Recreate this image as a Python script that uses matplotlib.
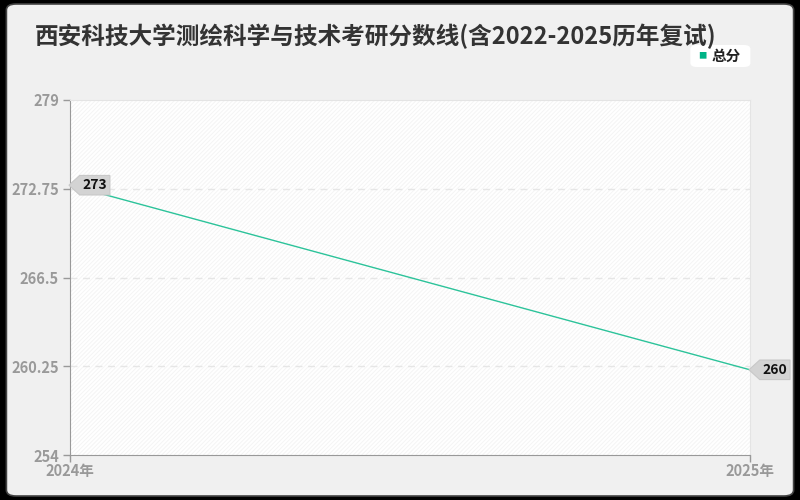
import matplotlib
matplotlib.use("Agg")
import matplotlib.pyplot as plt
from matplotlib.patches import FancyBboxPatch, Rectangle
from matplotlib.path import Path

plt.rcParams['font.family'] = ['Noto Sans CJK SC', 'DejaVu Sans']
plt.rcParams['hatch.linewidth'] = 0.6

years = ["2024年", "2025年"]
scores = [273, 260]
yticks = [254, 260.25, 266.5, 272.75, 279]
title = "西安科技大学测绘科学与技术考研分数线(含2022-2025历年复试)"
line_color = "#2cc39a"


def tag_box(x0, y0, width, height, mutation_size):
    # box with a pointed left side, like the value tags in the chart
    pad = 0.2 * mutation_size
    x0, y0 = x0 - pad, y0 - pad
    w, h = width + 2 * pad, height + 2 * pad
    tip = h * 0.55
    verts = [(x0 - tip, y0 + h / 2), (x0, y0 + h), (x0 + w, y0 + h),
             (x0 + w, y0), (x0, y0), (x0 - tip, y0 + h / 2)]
    codes = [Path.MOVETO] + [Path.LINETO] * 4 + [Path.CLOSEPOLY]
    return Path(verts, codes)


fig = plt.figure(figsize=(8, 5), dpi=100)
fig.patch.set_facecolor("black")

# rounded background panel
panel = FancyBboxPatch((0.008, 0.008), 0.984, 0.984,
                       boxstyle="round,pad=0,rounding_size=0.012",
                       transform=fig.transFigure, facecolor="#f0f0f0",
                       edgecolor="#444444", linewidth=1.2, zorder=-10)
fig.patches.append(panel)

ax = fig.add_axes([0.0875, 0.09, 0.85, 0.71])
ax.set_facecolor("white")
ax.add_patch(Rectangle((0, 0), 1, 1, transform=ax.transAxes, facecolor="none",
                       edgecolor="#f3f3f3", hatch="////////", linewidth=0, zorder=0))

x = list(range(len(years)))
ax.plot(x, scores, color=line_color, linewidth=1, zorder=3)

ax.set_xlim(0, 1)
ax.set_ylim(yticks[0], yticks[-1])
ax.set_yticks(yticks)
ax.set_yticklabels([f"{t:g}" for t in yticks])
ax.set_xticks(x)
ax.set_xticklabels(years)

for t in yticks[1:-1]:
    ax.axhline(t, color="#e6e6e6", linestyle=(0, (5, 4)), linewidth=1, zorder=1)

ax.tick_params(axis="both", colors="#999999", labelsize=10.5, length=5, width=1)
ax.tick_params(axis="y", pad=3)
ax.tick_params(axis="x", pad=1)
for lab in ax.get_xticklabels() + ax.get_yticklabels():
    lab.set_color("#999999")
    lab.set_fontweight("bold")

ax.spines["left"].set_color("#999999")
ax.spines["bottom"].set_color("#999999")
ax.spines["top"].set_color("#e4e4e4")
ax.spines["right"].set_color("#e4e4e4")

for xi, v in zip(x, scores):
    ax.annotate(str(v), (xi, v), xytext=(9, 0), textcoords="offset points",
                ha="left", va="center", fontsize=10, fontweight="bold",
                color="#111111", zorder=5, annotation_clip=False,
                bbox=dict(boxstyle=tag_box, facecolor="#d3d3d3",
                          edgecolor="#c8c8c8", linewidth=0.8))

fig.text(0.044, 0.928, title, fontsize=17, fontweight="bold", color="#333333",
         ha="left", va="center")

# legend
leg_box = FancyBboxPatch((0.863, 0.866), 0.075, 0.044,
                         boxstyle="round,pad=0,rounding_size=0.008",
                         transform=fig.transFigure, facecolor="white",
                         edgecolor="none", zorder=1)
fig.patches.append(leg_box)
fig.text(0.878, 0.888, "■", fontsize=6, color="#00b386", ha="center", va="center")
fig.text(0.890, 0.888, "总分", fontsize=10.5, fontweight="bold", color="#222222",
         ha="left", va="center")

fig.savefig("out.png", dpi=100, facecolor=fig.get_facecolor())
